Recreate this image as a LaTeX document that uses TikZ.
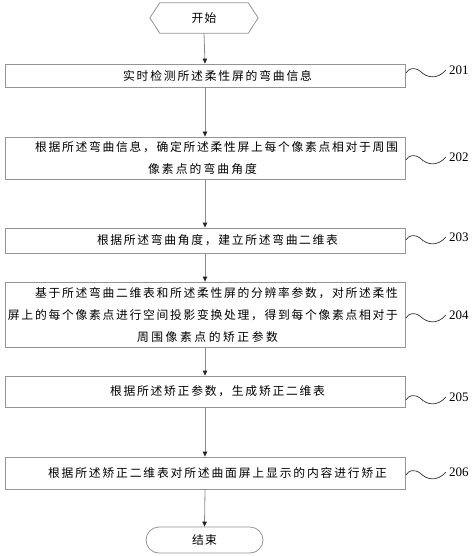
\documentclass[tikz,border=0pt]{standalone}
\usepackage{fontspec}
\setmainfont{Liberation Serif}
\newfontfamily\cjk{Noto Sans CJK SC}
\usetikzlibrary{arrows.meta,calc}
\makeatletter
\def\sprfirst#1{#1\sprrest}
\def\sprrest#1{\ifx#1\@nil\else\hfill#1\expandafter\sprrest\fi}
\newcommand\spr[2]{\hbox to #1pt{\sprfirst#2\@nil}}
\makeatother
\newcommand\wv[1]{(406,#1+2) .. controls (409,#1-3) and (414,#1-4) .. (420,#1) .. controls (427,#1+7) and (437,#1+9) .. (446,#1-1)}
\tikzset{
  border/.style={draw=black!42, line width=0.8pt},
  box/.style={border, fill=white, minimum width=400pt, inner sep=0pt},
  txt/.style={font=\cjk\fontsize{11.8}{13}\selectfont, inner sep=0pt},
  lab/.style={font=\fontsize{13}{15}\selectfont, anchor=west, inner sep=0pt},
  wave/.style={draw=black!80, line width=0.7pt},
  arr/.style={draw=black!45, line width=0.8pt, -{Triangle[length=5pt,width=4.5pt,color=black!85]}}
}
\begin{document}
\begin{tikzpicture}[x=1pt,y=-1pt]
\useasboundingbox (0,0) rectangle (474,556);
% start
\node[txt, minimum width=108pt, minimum height=30pt] (start) at (204,18) {\spr{25}{开始}};
\draw[border] (start.west) -- ([xshift=10pt]start.north west) -- ([xshift=-10pt]start.north east)
  -- (start.east) -- ([xshift=-10pt]start.south east) -- ([xshift=10pt]start.south west) -- cycle;
% boxes
\node[box, minimum height=23pt] (b1) at (205,75.5) {};
\node[box, minimum height=42pt] (b2) at (205,158) {};
\node[box, minimum height=25pt] (b3) at (205,240.5) {};
\node[box, minimum height=65pt] (b4) at (205,314.5) {};
\node[box, minimum height=31pt] (b5) at (205,391.5) {};
\node[box, minimum height=32pt] (b6) at (205,473) {};
\node[border, txt, rounded corners=13pt, minimum width=117pt, minimum height=26pt] (stop) at (204.5,540) {\spr{25}{结束}};
% texts
\node[txt] (t1) at (217.5,75.5) {\spr{189}{实时检测所述柔性屏的弯曲信息}};
\node[txt] (t2a) at (216.5,147) {\spr{363}{根据所述弯曲信息，确定所述柔性屏上每个像素点相对于周围}};
\node[txt] (t2b) at (202.5,169) {\spr{109}{像素点的弯曲角度}};
\node[txt] (t3) at (217.5,240.5) {\spr{241}{根据所述弯曲角度，建立所述弯曲二维表}};
\node[txt] (t4a) at (216.5,293) {\spr{363}{基于所述弯曲二维表和所述柔性屏的分辨率参数，对所述柔性}};
\node[txt] (t4b) at (203,315) {\spr{390}{屏上的每个像素点进行空间投影变换处理，得到每个像素点相对于}};
\node[txt] (t4c) at (207.5,337) {\spr{141}{周围像素点的矫正参数}};
\node[txt] (t5) at (217.5,391.5) {\spr{215}{根据所述矫正参数，生成矫正二维表}};
\node[txt] (t6) at (217.5,473) {\spr{339}{根据所述矫正二维表对所述曲面屏上显示的内容进行矫正}};
% labels
\node[lab] (l1) at (449,70) {201};
\node[lab] (l2) at (449,157) {202};
\node[lab] (l3) at (449,237) {203};
\node[lab] (l4) at (449,315) {204};
\node[lab] (l5) at (449,397) {205};
\node[lab] (l6) at (449,472) {206};
\draw[wave] \wv{71};
\draw[wave] \wv{158};
\draw[wave] \wv{238};
\draw[wave] \wv{316};
\draw[wave] \wv{398};
\draw[wave] \wv{473};
% arrows
\draw[arr] (start.south) -- (b1.north);
\draw[arr] (b1.south) -- (b2.north);
\draw[arr] (b2.south) -- (b3.north);
\draw[arr] (b3.south) -- (b4.north);
\draw[arr] (b4.south) -- (b5.north);
\draw[arr] (b5.south) -- (b6.north);
\draw[arr] (b6.south) -- (stop.north);
\end{tikzpicture}
\end{document}
